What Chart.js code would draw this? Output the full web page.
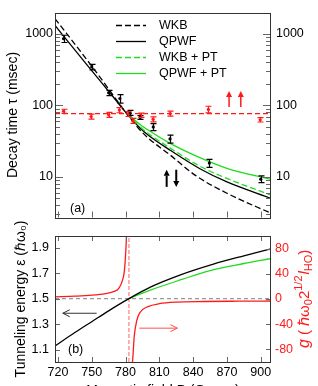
<!DOCTYPE html>
<html>
<head>
<meta charset="utf-8">
<script src="https://cdn.jsdelivr.net/npm/chart.js@4.4.1/dist/chart.umd.min.js"></script>
<style>
  html, body { margin: 0; padding: 0; background: #fff; overflow: hidden; }
  #top { position: absolute; left: 0; top: 0; width: 318px; height: 230px; }
  #bottom { position: absolute; left: 0; top: 200px; width: 318px; height: 230px; }
</style>
</head>
<body>
<div id="top"><canvas id="tauChart"></canvas></div>
<div id="bottom"><canvas id="epsChart"></canvas></div>
<script>
// ---- values ----
const xTicks = [720, 750, 780, 810, 840, 870, 900];
const tauTicks = [3, 4, 5, 6, 7, 8, 9, 10, 20, 30, 40, 50, 60, 70, 80, 90,
                  100, 200, 300, 400, 500, 600, 700, 800, 900, 1000, 2000];
const tauLabels = [10, 100, 1000];
const epsTicks = [1.1, 1.3, 1.5, 1.7, 1.9];
const gTicks = [-80, -40, 0, 40, 80];

// (a) decay time, msec
const wkbB = [717.4, 748.5, 765, 781, 792, 800, 820, 842, 870, 909.1];
const wkbTau = [1644, 382, 170, 76.7, 46.8, 35.1, 20.0, 10.5, 5.9, 3.1];
const qpwfB = [717.4, 748.5, 765, 781, 792, 800, 820, 846, 870, 909.1];
const qpwfTau = [1321, 327, 158, 77.6, 50, 38.5, 23.4, 13.0, 8.5, 5.0];
const wkbPtB = [782, 792, 800, 820, 846, 870, 909.1];
const wkbPtTau = [76, 51.9, 40.7, 25.1, 14.1, 9.5, 5.56];
const qpwfPtB = [782, 792, 800, 820, 846, 870, 909.1];
const qpwfPtTau = [76, 55.6, 45.2, 29.2, 18.6, 13.2, 9.2];

const decayB = [725, 750, 765, 775, 784, 793, 804.6, 819.5, 854.4, 900];
const decayTau = [860, 345, 150, 125, 79, 68, 50, 34, 15.6, 9.3];
const decayErr = [100, 30, 13, 17, 6.5, 4, 5.5, 4.4, 2, 1.0];
const ptB = [725, 749.5, 765, 774.5, 782, 786.5, 793.5, 804.5, 819.5, 853.5, 899.5];
const ptTau = [83, 70, 74, 86, 76, 61, 73, 64, 77, 88, 63];
const ptErr = [5.5, 5.5, 6, 7, 6, 5, 5, 5, 6, 9.5, 4.4];
const ptLevel = 77;

// arrows in (a): field, tau from, tau to
const upArrowsB = [871.9, 882.3];
const upArrowsTau = [95, 159];
const spinArrowsB = [816.5, 825];
const spinArrowsTau = [7.24, 12.6];

// (b) tunneling energy and coupling g
const epsB = [717.4, 735, 750, 765, 783, 802, 830, 858, 885, 909.1];
const epsQpwf = [1.13, 1.235, 1.32, 1.405, 1.50, 1.59, 1.69, 1.77, 1.835, 1.89];
const epsPtB = [783, 802, 830, 855, 885, 909.1];
const epsPt = [1.50, 1.567, 1.65, 1.72, 1.775, 1.814];
const gLeftB = [717.4, 735, 750, 762, 770, 774, 777, 779, 780.4, 780.9, 781.4];
const gLeft = [3.5, 4.5, 6, 8.5, 12, 17, 28, 45, 82, 105, 140];
const gRightB = [784.8, 785.6, 786.4, 787.8, 790, 793, 800, 810, 825, 850, 880, 909.1];
const gRight = [-140, -112, -95, -58, -34, -21, -12, -7.5, -5, -4, -3.5, -3.2];
const resonanceB = 783;
const thresholdEps = 1.5;
const leftArrowB = [754.4, 724.3], leftArrowEps = 1.386;
const rightArrowB = [792.2, 826], rightArrowG = -46.3;

const X_MIN = 717.4, X_MAX = 909.1;

// ---- styling ----
const FONT = '"Liberation Sans", Arial, Helvetica, sans-serif';
const RED = '#ff1a1a', GREEN = '#1edc1e', BLACK = '#000';
Chart.defaults.font.family = FONT;
Chart.defaults.font.size = 12.5;
Chart.defaults.color = '#000';

const pts = (xs, ys) => xs.map((x, i) => ({ x: x, y: ys[i] }));
const curve = (label, data, color, dash, axis) => ({
  label: label, data: data, yAxisID: axis || 'y', borderColor: color, borderWidth: 1.3,
  borderDash: dash || [], pointRadius: 0, cubicInterpolationMode: 'monotone', fill: false
});
const straight = (data, color, dash, width, axis) => ({
  data: data, yAxisID: axis || 'y', borderColor: color, borderWidth: width,
  borderDash: dash, pointRadius: 0, tension: 0, fill: false
});
const markers = (data, errors, color) => ({
  data: data, errors: errors, showLine: false, pointRadius: 1.6, pointBorderWidth: 0,
  pointBackgroundColor: color, borderColor: color
});
const fixedTicks = list => (s => { s.ticks = list.map(v => ({ value: v })); });

// frame + ticks pointing into the plot
const frameTicks = {
  id: 'frameTicks',
  afterDatasetsDraw(chart, args, opts) {
    const { ctx, chartArea: a } = chart;
    ctx.save();
    ctx.lineWidth = 1;
    ctx.strokeStyle = '#666';
    for (const m of opts.marks) {
      const s = chart.scales[m.scale];
      for (const t of s.ticks) {
        const p = Math.round(s.getPixelForValue(t.value)) + 0.5;
        const len = m.isMajor && !m.isMajor(t.value) ? m.minor : m.major;
        for (const side of m.sides) {
          ctx.beginPath();
          if (side === 'left') { ctx.moveTo(a.left, p); ctx.lineTo(a.left + len, p); }
          if (side === 'right') { ctx.moveTo(a.right, p); ctx.lineTo(a.right - len, p); }
          if (side === 'top') { ctx.moveTo(p, a.top); ctx.lineTo(p, a.top + len); }
          if (side === 'bottom') { ctx.moveTo(p, a.bottom); ctx.lineTo(p, a.bottom - len); }
          ctx.stroke();
        }
      }
    }
    ctx.strokeStyle = '#333';
    ctx.strokeRect(Math.round(a.left) + 0.5, Math.round(a.top) + 0.5,
                   Math.round(a.right - a.left) - 1, Math.round(a.bottom - a.top));
    ctx.restore();
  }
};

// vertical error bars with caps
const errorBars = {
  id: 'errorBars',
  afterDatasetsDraw(chart) {
    const { ctx } = chart;
    chart.data.datasets.forEach(ds => {
      if (!ds.errors) return;
      const xs = chart.scales.x, ys = chart.scales[ds.yAxisID || 'y'];
      ctx.save();
      ctx.strokeStyle = ds.borderColor;
      ctx.lineWidth = 1.2;
      ds.data.forEach((p, j) => {
        const x = Math.round(xs.getPixelForValue(p.x)) + 0.5;
        const y0 = ys.getPixelForValue(p.y - ds.errors[j]);
        const y1 = ys.getPixelForValue(p.y + ds.errors[j]);
        ctx.beginPath();
        ctx.moveTo(x, y0); ctx.lineTo(x, y1);
        ctx.moveTo(x - 3, y0); ctx.lineTo(x + 3, y0);
        ctx.moveTo(x - 3, y1); ctx.lineTo(x + 3, y1);
        ctx.stroke();
      });
      ctx.restore();
    });
  }
};

function arrow(ctx, x0, y0, x1, y1, color, width, filled) {
  const ang = Math.atan2(y1 - y0, x1 - x0), hl = filled ? 6 : 7, hw = filled ? 3 : 3.5;
  const bx = x1 - hl * Math.cos(ang), by = y1 - hl * Math.sin(ang);
  const nx = -Math.sin(ang) * hw, ny = Math.cos(ang) * hw;
  ctx.save();
  ctx.strokeStyle = color; ctx.fillStyle = color; ctx.lineWidth = width;
  ctx.beginPath();
  ctx.moveTo(x0, y0);
  ctx.lineTo(filled ? bx : x1, filled ? by : y1);
  ctx.stroke();
  ctx.beginPath();
  ctx.moveTo(bx + nx, by + ny); ctx.lineTo(x1, y1); ctx.lineTo(bx - nx, by - ny);
  if (filled) { ctx.closePath(); ctx.fill(); } else { ctx.lineWidth = 1; ctx.stroke(); }
  ctx.restore();
}

const arrows = {
  id: 'arrows',
  afterDatasetsDraw(chart, args, opts) {
    const xs = chart.scales.x;
    for (const r of opts.items) {
      const ys = chart.scales[r.axis];
      arrow(chart.ctx, xs.getPixelForValue(r.x0), ys.getPixelForValue(r.y0),
            xs.getPixelForValue(r.x1), ys.getPixelForValue(r.y1), r.color, r.width, r.filled);
    }
  }
};

// legend of line samples inside panel (a)
const lineLegend = {
  id: 'lineLegend',
  afterDraw(chart, args, opts) {
    if (!opts.items) return;
    const { ctx, chartArea: a } = chart;
    ctx.save();
    ctx.font = '12.5px ' + FONT;
    ctx.textBaseline = 'middle';
    opts.items.forEach((label, i) => {
      const ds = chart.data.datasets.find(d => d.label === label);
      const y = Math.round(a.top + opts.top + i * opts.step) + 0.5;
      ctx.strokeStyle = ds.borderColor;
      ctx.lineWidth = ds.borderWidth;
      ctx.setLineDash(ds.borderDash || []);
      ctx.beginPath();
      ctx.moveTo(a.left + opts.lineX, y);
      ctx.lineTo(a.left + opts.lineX + opts.lineW, y);
      ctx.stroke();
      ctx.setLineDash([]);
      ctx.fillStyle = '#000';
      ctx.fillText(label, a.left + opts.textX, y);
    });
    ctx.restore();
  }
};

const panelTag = {
  id: 'panelTag',
  afterDraw(chart, args, opts) {
    const { ctx, chartArea: a } = chart;
    ctx.save();
    ctx.font = '12.5px ' + FONT;
    ctx.fillStyle = '#000';
    ctx.textBaseline = 'middle';
    ctx.fillText(opts.text, a.left + opts.dx, a.bottom - opts.dy);
    ctx.restore();
  }
};

// rotated title with sub/superscripts
const richTitle = {
  id: 'richTitle',
  afterDraw(chart, args, opts) {
    if (!opts.parts) return;
    const { ctx } = chart;
    ctx.save();
    ctx.translate(opts.x, opts.y);
    ctx.rotate(-Math.PI / 2);
    ctx.fillStyle = opts.color;
    ctx.textBaseline = 'alphabetic';
    let cx = 0;
    for (const p of opts.parts) {
      ctx.font = (p.italic ? 'italic ' : '') + p.size + 'px ' + FONT;
      ctx.fillText(p.t, cx, p.dy || 0);
      cx += ctx.measureText(p.t).width + (p.gap || 0);
    }
    ctx.restore();
  }
};

// ---- panel (a) ----
new Chart(document.getElementById('tauChart'), {
  type: 'line',
  data: {
    datasets: [
      markers(pts(decayB, decayTau), decayErr, BLACK),
      markers(pts(ptB, ptTau), ptErr, RED),
      straight([{ x: X_MIN, y: ptLevel }, { x: X_MAX, y: ptLevel }], RED, [5, 3], 1.3),
      curve('QPWF + PT', pts(qpwfPtB, qpwfPtTau), GREEN),
      curve('WKB + PT', pts(wkbPtB, wkbPtTau), GREEN, [6, 3]),
      curve('QPWF', pts(qpwfB, qpwfTau), BLACK),
      curve('WKB', pts(wkbB, wkbTau), BLACK, [6, 3])
    ]
  },
  options: {
    responsive: true, maintainAspectRatio: false, animation: false, events: [],
    layout: { padding: { top: 12, left: 0, right: 0, bottom: 0 } },
    scales: {
      x: {
        type: 'linear', min: X_MIN, max: X_MAX,
        afterBuildTicks: fixedTicks(xTicks),
        ticks: { display: false }, grid: { display: false, drawTicks: false }, border: { display: false },
        afterFit: s => { s.height = 5; }
      },
      y: {
        type: 'logarithmic', position: 'left', min: 2.7, max: 2000,
        afterBuildTicks: fixedTicks(tauTicks),
        ticks: { autoSkip: false, padding: 2, callback: v => tauLabels.includes(v) ? String(v) : '' },
        grid: { display: false, drawTicks: false }, border: { display: false },
        title: { display: true, text: 'Decay time τ (msec)', font: { size: 14 }, padding: { top: 4.6, bottom: 0 } },
        afterFit: s => { s.width = 55; }
      },
      y2: {
        type: 'logarithmic', position: 'right', min: 2.7, max: 2000,
        afterBuildTicks: fixedTicks(tauTicks),
        ticks: { autoSkip: false, padding: 5, callback: v => tauLabels.includes(v) ? String(v) : '' },
        grid: { display: false, drawTicks: false }, border: { display: false },
        afterFit: s => { s.width = 47; }
      }
    },
    plugins: {
      legend: { display: false }, tooltip: { enabled: false },
      frameTicks: { marks: [
        { scale: 'x', sides: ['bottom'], major: 6 },
        { scale: 'y', sides: ['left', 'right'], major: 8, minor: 5, isMajor: v => tauLabels.includes(v) }
      ] },
      arrows: { items: [
        { axis: 'y', x0: upArrowsB[0], y0: upArrowsTau[0], x1: upArrowsB[0], y1: upArrowsTau[1], color: RED, width: 1.5, filled: true },
        { axis: 'y', x0: upArrowsB[1], y0: upArrowsTau[0], x1: upArrowsB[1], y1: upArrowsTau[1], color: RED, width: 1.5, filled: true },
        { axis: 'y', x0: spinArrowsB[0], y0: spinArrowsTau[0], x1: spinArrowsB[0], y1: spinArrowsTau[1], color: BLACK, width: 2, filled: true },
        { axis: 'y', x0: spinArrowsB[1], y0: spinArrowsTau[1], x1: spinArrowsB[1], y1: spinArrowsTau[0], color: BLACK, width: 2, filled: true }
      ] },
      lineLegend: { items: ['WKB', 'QPWF', 'WKB + PT', 'QPWF + PT'], top: 12, step: 16, lineX: 61, lineW: 30, textX: 104 },
      panelTag: { text: '(a)', dx: 15, dy: 9 }
    }
  },
  plugins: [frameTicks, errorBars, arrows, lineLegend, panelTag]
});

// ---- panel (b) ----
new Chart(document.getElementById('epsChart'), {
  type: 'line',
  data: {
    datasets: [
      curve('eps', pts(epsB, epsQpwf), BLACK),
      curve('eps PT', pts(epsPtB, epsPt), GREEN),
      curve('g left', pts(gLeftB, gLeft), RED, null, 'y2'),
      curve('g right', pts(gRightB, gRight), RED, null, 'y2'),
      straight([{ x: X_MIN, y: thresholdEps }, { x: X_MAX, y: thresholdEps }], '#999', [4, 3], 1.2),
      straight([{ x: resonanceB, y: 1.005 }, { x: resonanceB, y: 1.99 }], 'rgba(255,80,80,0.6)', [4, 2], 1.5)
    ]
  },
  options: {
    responsive: true, maintainAspectRatio: false, animation: false, events: [],
    layout: { padding: { top: 36, left: 0, right: 0, bottom: 0 } },
    scales: {
      x: {
        type: 'linear', min: X_MIN, max: X_MAX,
        afterBuildTicks: fixedTicks(xTicks),
        ticks: { autoSkip: false, maxRotation: 0, padding: 3 },
        grid: { display: false, drawTicks: false }, border: { display: false },
        title: { display: true, text: 'Magnetic field B (Gauss)', font: { size: 14 }, padding: { top: 0, bottom: 30 } },
        afterFit: s => { s.height = 68; }
      },
      y: {
        type: 'linear', position: 'left', min: 1.005, max: 1.99,
        afterBuildTicks: fixedTicks(epsTicks),
        ticks: { autoSkip: false, padding: 6, callback: v => v.toFixed(1) },
        grid: { display: false, drawTicks: false }, border: { display: false },
        title: { display: true, text: 'Tunneling energy ε (ℏω₀)', font: { size: 14 }, padding: { top: 12.6, bottom: 0 } },
        afterFit: s => { s.width = 55; }
      },
      y2: {
        type: 'linear', position: 'right', min: -100, max: 100,
        afterBuildTicks: fixedTicks(gTicks),
        ticks: { autoSkip: false, padding: 4, color: RED, callback: v => String(v) },
        grid: { display: false, drawTicks: false }, border: { display: false },
        afterFit: s => { s.width = 47; }
      }
    },
    plugins: {
      legend: { display: false }, tooltip: { enabled: false },
      frameTicks: { marks: [
        { scale: 'x', sides: ['top', 'bottom'], major: 5 },
        { scale: 'y', sides: ['left'], major: 5 },
        { scale: 'y2', sides: ['right'], major: 5 }
      ] },
      arrows: { items: [
        { axis: 'y', x0: leftArrowB[0], y0: leftArrowEps, x1: leftArrowB[1], y1: leftArrowEps, color: '#333', width: 1, filled: false },
        { axis: 'y2', x0: rightArrowB[0], y0: rightArrowG, x1: rightArrowB[1], y1: rightArrowG, color: '#ff5050', width: 1, filled: false }
      ] },
      panelTag: { text: '(b)', dx: 13, dy: 12 },
      richTitle: {
        x: 309, y: 148, color: RED,
        parts: [
          { t: 'g', size: 16, italic: true, gap: 4 },
          { t: '( ', size: 15 },
          { t: 'ℏω', size: 15 },
          { t: '0', size: 11, dy: 3 },
          { t: '2', size: 15 },
          { t: '1/2', size: 11, dy: -7, gap: 1 },
          { t: 'l', size: 15, italic: true },
          { t: 'HO', size: 11, dy: 3 },
          { t: ')', size: 15 }
        ]
      }
    }
  },
  plugins: [frameTicks, errorBars, arrows, panelTag, richTitle]
});
</script>
</body>
</html>
